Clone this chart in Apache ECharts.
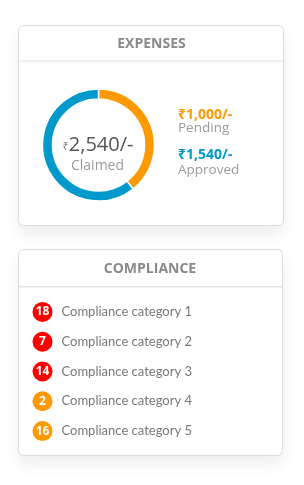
<!DOCTYPE html>
<html>
<head>
<meta charset="utf-8">
<script src="https://cdn.jsdelivr.net/npm/echarts@6/dist/echarts.min.js"></script>
<style>
html,body{margin:0;padding:0;background:#fff;}
#chart{width:304px;height:485px;}
</style>
</head>
<body>
<div id="chart"></div>
<script>
// ---- data ----
const expenseLabels = ['Pending', 'Approved'];
const expenseValues = [1000, 1540];
const totalLabel = 'Claimed';
const complianceCategories = ['Compliance category 1', 'Compliance category 2', 'Compliance category 3', 'Compliance category 4', 'Compliance category 5'];
const complianceCounts = [18, 7, 14, 2, 16];
const complianceLevels = ['high', 'high', 'high', 'medium', 'medium'];
const cardTitles = ['EXPENSES', 'COMPLIANCE'];

// ---- styles ----
const FONT = '"Open Sans", "Noto Sans", "DejaVu Sans", sans-serif';
const LIST_FONT = 'Lato, "Open Sans", "Noto Sans", sans-serif';
const expenseColors = ['#ff9900', '#0099cc'];
const levelColors = { high: '#ff0000', medium: '#ff9900' };
const fmt = v => '\u20B9' + v.toLocaleString('en-US') + '/-';
const total = expenseValues.reduce((a, b) => a + b, 0);

const chart = echarts.init(document.getElementById('chart'), null, { renderer: 'canvas' });

function card(x, y, w, h, headerH) {
  return [
    { type: 'rect', z: 0, shape: { x: x, y: y, width: w, height: h, r: 5 },
      style: { fill: '#fff', stroke: '#dcdcdc', lineWidth: 1, shadowBlur: 16, shadowOffsetY: 9, shadowColor: 'rgba(0,0,0,0.07)' } },
    { type: 'line', z: 1, shape: { x1: x + 0.5, y1: y + headerH, x2: x + w - 0.5, y2: y + headerH },
      style: { stroke: '#e2e2e2', lineWidth: 1 } },
    { type: 'line', z: 1, shape: { x1: x + 0.5, y1: y + headerH + 1, x2: x + w - 0.5, y2: y + headerH + 1 },
      style: { stroke: '#f2f2f2', lineWidth: 1 } }
  ];
}

const graphics = [].concat(
  card(18.5, 25.5, 265, 200, 35.5),
  card(18.5, 249.5, 264, 206, 37),
  [
    { type: 'text', z: 2, style: { text: cardTitles[0], x: 151.5, y: 44, align: 'center', verticalAlign: 'middle',
        font: 'bold 14px ' + FONT, fill: '#8a8a8a' } },
    { type: 'text', z: 2, style: { text: cardTitles[1], x: 150, y: 269, align: 'center', verticalAlign: 'middle',
        font: 'bold 14px ' + FONT, fill: '#8a8a8a' } },
    { type: 'text', z: 2, style: { text: '{s|\u20B9}{b|' + total.toLocaleString('en-US') + '/-}', x: 98, y: 145,
        align: 'center', verticalAlign: 'middle',
        rich: { s: { font: '11px ' + FONT, fill: '#777', padding: [4, 0, 0, 0] }, b: { font: '20px ' + FONT, fill: '#555' } } } },
    { type: 'text', z: 2, style: { text: totalLabel, x: 97.5, y: 166, align: 'center', verticalAlign: 'middle',
        font: '14px ' + FONT, fill: '#9a9a9a' } }
  ],
  expenseLabels.flatMap((name, i) => [
    { type: 'text', z: 2, style: { text: fmt(expenseValues[i]), x: 178, y: 115 + i * 40.5, align: 'left', verticalAlign: 'middle',
        font: 'bold 14px ' + FONT, fill: expenseColors[i] } },
    { type: 'text', z: 2, style: { text: name, x: 178, y: 128.5 + i * 41.5, align: 'left', verticalAlign: 'middle',
        font: '13.5px ' + FONT, fill: '#9a9a9a' } }
  ])
);

const option = {
  animation: false,
  backgroundColor: '#fff',
  graphic: graphics,
  grid: { left: 32.5, top: 297, width: 200, height: 149 },
  xAxis: { type: 'value', min: 0, max: 20, show: false },
  yAxis: { type: 'category', data: complianceCategories, inverse: true, show: false },
  series: [
    {
      type: 'pie', z: 5, center: [98.5, 145], radius: [46, 56], startAngle: 90, clockwise: true,
      label: { show: false }, labelLine: { show: false }, silent: true,
      itemStyle: { borderColor: '#fff', borderWidth: 1.5 },
      data: expenseLabels.map((n, i) => ({ name: n, value: expenseValues[i], itemStyle: { color: expenseColors[i] } }))
    },
    {
      type: 'scatter', z: 5, clip: false, symbol: 'circle', symbolSize: 20, silent: true,
      itemStyle: { opacity: 1 },
      data: complianceCategories.map((c, i) => ({ value: [1, c], count: complianceCounts[i],
        itemStyle: { color: levelColors[complianceLevels[i]], opacity: 1 } })),
      label: { show: true, position: 'inside', formatter: p => String(p.data.count),
        color: '#fff', fontFamily: FONT, fontWeight: 'bold', fontSize: 12 }
    },
    {
      type: 'scatter', z: 5, clip: false, symbolSize: 0, silent: true,
      data: complianceCategories.map(c => [1, c]),
      label: { show: true, position: 'right', distance: 19, formatter: p => p.value[1],
        color: '#555', fontFamily: LIST_FONT, fontSize: 13 }
    }
  ]
};
chart.setOption(option);
</script>
</body>
</html>
